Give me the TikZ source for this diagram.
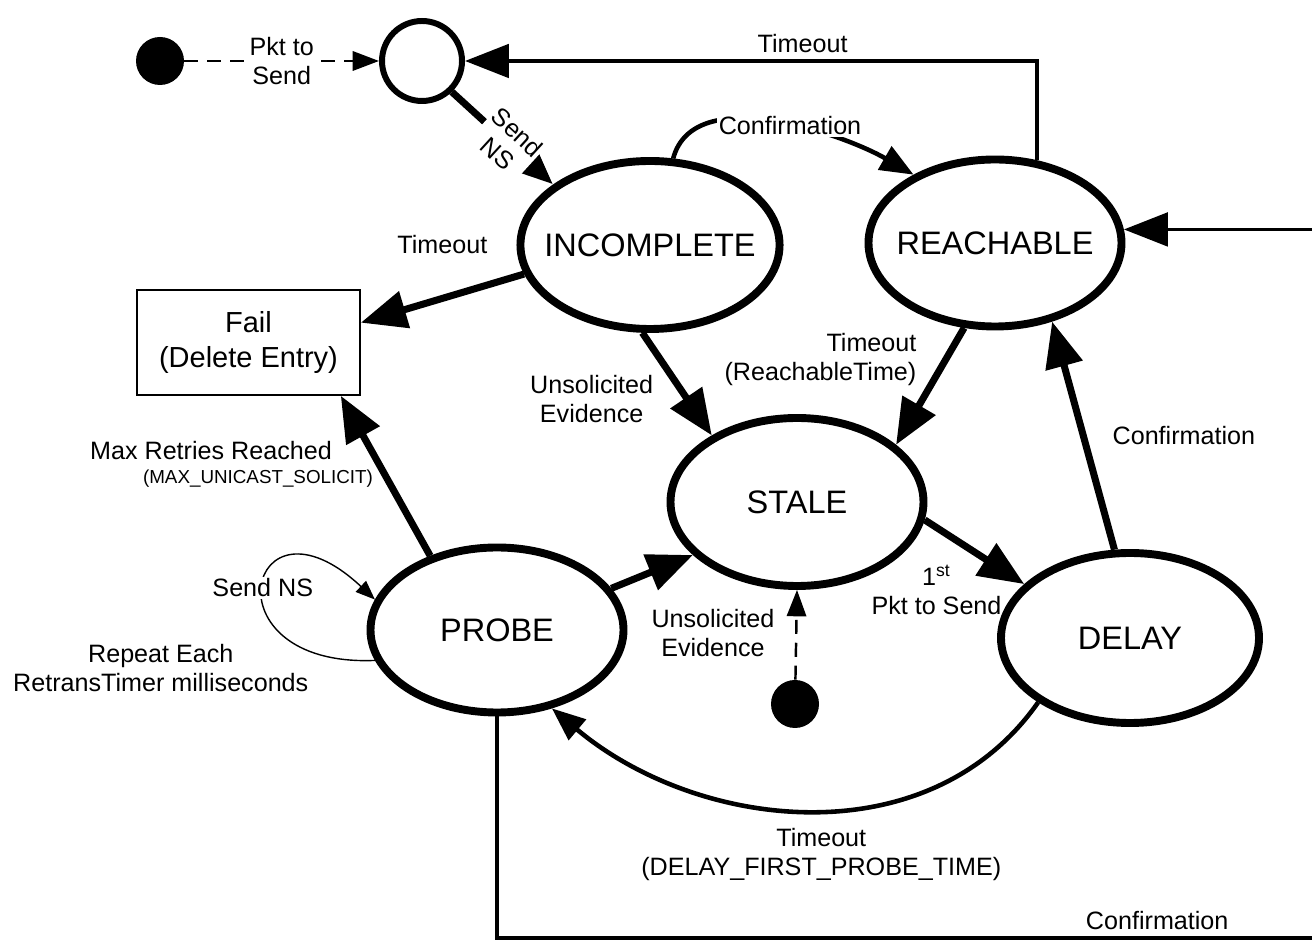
\documentclass[tikz,border=0pt]{standalone}
\usepackage{fontspec}
\setmainfont{Liberation Sans}
\usetikzlibrary{arrows.meta, positioning, shapes.geometric}

\begin{document}
\begin{tikzpicture}[
    state/.style={
        ellipse,
        draw,
        line width=4.5pt,
        inner xsep=-8pt,
        minimum width=5.06cm,
        minimum height=3.36cm,
        font=\fontsize{18.5}{21}\selectfont
    },
    dot/.style={circle, fill=black, minimum size=0.96cm, inner sep=0pt},
    lbl/.style={font=\fontsize{14.3}{16.5}\selectfont, align=center},
    heavy/.style={-{Triangle[length=26pt, width=21pt]}, line width=4pt},
    curved/.style={-{Triangle[length=19pt, width=15pt]}, line width=2.6pt},
    wire/.style={-{Triangle[length=25pt, width=19pt]}, line width=2.2pt},
    dashedflow/.style={
        dashed,
        dash pattern=on 8pt off 5pt,
        line width=1.4pt,
        -{Triangle[length=15pt, width=11pt]}
    },
    loopline/.style={-{Triangle[length=11pt, width=8.5pt]}, line width=0.8pt},
]

\clip (0,0) rectangle (26.24,18.88);

\node[dot] (src) at (3.20,17.66) {};
\node[circle, draw, line width=3.4pt, minimum size=1.6cm] (entry) at (8.44,17.66) {};

\node[state] (incomplete) at (13.00,13.98) {INCOMPLETE};
\node[state, minimum height=3.34cm] (reachable) at (19.90,14.02) {REACHABLE};

\node[
    draw,
    line width=0.9pt,
    minimum width=4.46cm,
    minimum height=2.1cm,
    align=center,
    font=\fontsize{16.5}{19.5}\selectfont
] (fail) at (4.97,12.03) {Fail\\(Delete Entry)};

\node[state] (stale) at (15.94,8.84) {STALE};
\node[state, minimum width=5.16cm, minimum height=3.40cm] (delay) at (22.60,6.12) {DELAY};
\node[state, minimum height=3.30cm] (probe) at (9.94,6.28) {PROBE};

\node[dot] (revisit) at (15.90,4.80) {};

\draw[dashedflow] (src) -- node[lbl, fill=white, inner sep=1pt] {Pkt to\\Send} (entry);

\draw[wire] (reachable.63) |- node[lbl, pos=0.705, above] {Timeout} (entry.east);

\draw[heavy, -{Triangle[length=18pt, width=14pt]}] (entry.-46)
    -- node[lbl, sloped, pos=0.55, fill=white, inner sep=1pt] {Send\\NS}
    (incomplete.148);

\draw[curved] (incomplete.75) to[out=75, in=150, looseness=0.85]
    node[lbl, pos=0.55, fill=white, inner sep=1pt] {Confirmation}
    (reachable.140);

\draw[heavy] (incomplete.193) -- node[lbl, midway, above=0.7cm] {Timeout} (fail.10);

\draw[heavy] (incomplete.265)
    -- node[lbl, pos=0.65, left=0.5cm] {Unsolicited\\Evidence}
    (stale.142);

\draw[heavy] (reachable.250)
    -- node[lbl, pos=0.27, left=0.4cm, align=right] {Timeout\\(ReachableTime)}
    (stale.30);

\draw[heavy] (delay.100) -- node[lbl, midway, right=0.4cm] {Confirmation} (reachable.306);

\draw[heavy] (stale.352)
    -- node[lbl, midway, xshift=-0.76cm, yshift=-0.76cm] {1\textsuperscript{st}\\Pkt to Send}
    (delay.153);

\draw[heavy] (probe.20)
    -- node[lbl, midway, below right=0.56cm and -0.2cm] {Unsolicited\\Evidence}
    (stale.207);

\draw[dashedflow] (revisit) -- (stale.south);

\draw[heavy] (probe.132)
    -- node[lbl, pos=0.66, left=0.6cm] {Max Retries Reached}
       node[pos=0.48, left=0.1cm, font=\fontsize{10.7}{12}\selectfont] {(MAX\_UNICAST\_SOLICIT)}
    (fail.-30);

\draw[loopline] (probe.194) .. controls +(-3.44,-0.14) and +(-2.54,2.38) ..
    node[lbl, pos=0.5, fill=white, inner sep=1pt] {Send NS}
    node[lbl, at start, left=1.2cm, yshift=-0.16cm] {Repeat Each\\RetransTimer milliseconds}
    (probe.166);

\draw[curved] (delay.215) to[out=235, in=-40]
    node[lbl, midway, below=0.2cm, xshift=0.25cm] {Timeout\\(DELAY\_FIRST\_PROBE\_TIME)}
    (probe.305);

\coordinate (farright) at (27.0,0.12);
\draw[wire] (probe.south) |- node[lbl, pos=0.887, above] {Confirmation} (farright)
    |- (reachable.6);

\end{tikzpicture}
\end{document}
